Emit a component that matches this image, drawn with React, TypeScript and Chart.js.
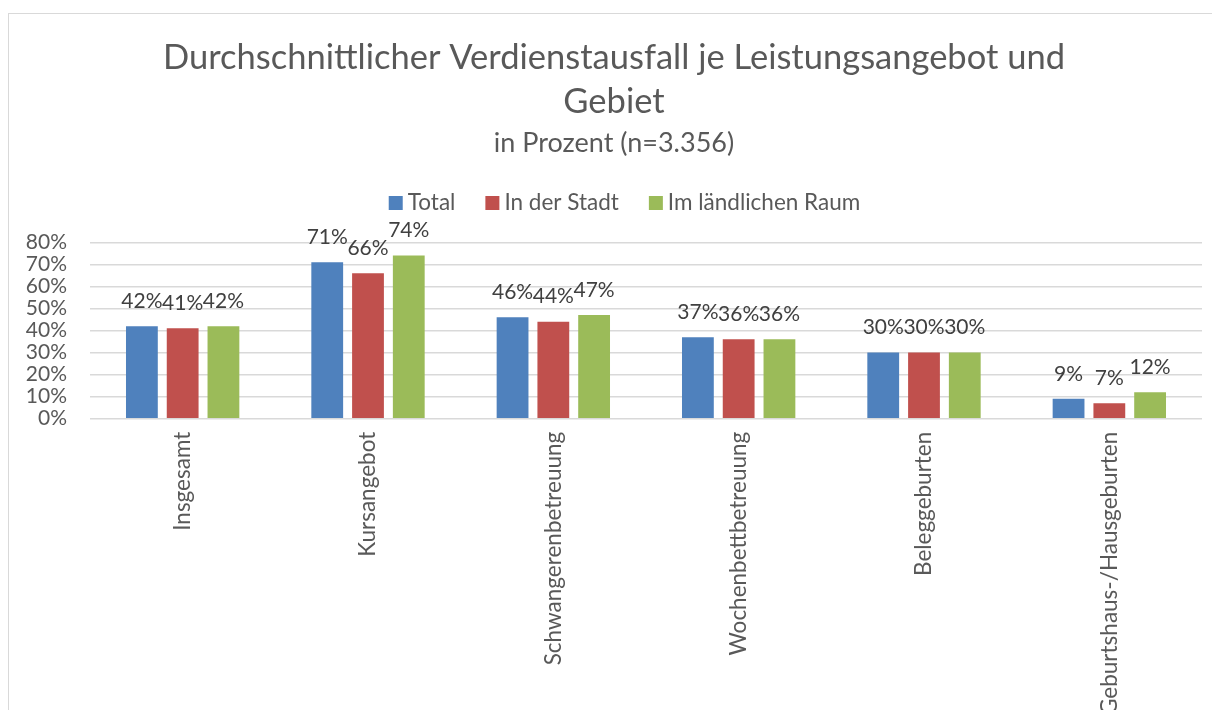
import React, { useEffect, useRef } from "react";
import { Chart, registerables } from "chart.js";

Chart.register(...registerables);

const categories = [
  "Insgesamt",
  "Kursangebot",
  "Schwangerenbetreuung",
  "Wochenbettbetreuung",
  "Beleggeburten",
  "Geburtshaus-/Hausgeburten",
];
const seriesNames = ["Total", "In der Stadt", "Im ländlichen Raum"];
const totalValues = [42, 71, 46, 37, 30, 9];
const stadtValues = [41, 66, 44, 36, 30, 7];
const laendlichValues = [42, 74, 47, 36, 30, 12];
const seriesColors = ["#4f81bd", "#c0504d", "#9bbb59"];
const yTicks = [0, 10, 20, 30, 40, 50, 60, 70, 80];

const FONT = "Lato";
const TEXT = "#595959";

const dataLabelPlugin = {
  id: "dataLabels",
  afterDatasetsDraw(chart: any) {
    const ctx = chart.ctx;
    ctx.save();
    ctx.font = `21px ${FONT}`;
    ctx.fillStyle = "#404040";
    ctx.textAlign = "center";
    ctx.textBaseline = "middle";
    chart.data.datasets.forEach((ds: any, i: number) => {
      const meta = chart.getDatasetMeta(i);
      meta.data.forEach((el: any, j: number) => {
        ctx.fillText(`${ds.data[j]}%`, el.x, el.y - 25);
      });
    });
    ctx.restore();
  },
};

const legendPlugin = {
  id: "customLegend",
  afterDraw(chart: any) {
    const ctx = chart.ctx;
    ctx.save();
    ctx.font = `22.5px ${FONT}`;
    ctx.textBaseline = "middle";
    ctx.textAlign = "left";
    const box = 14;
    const gap = 5;
    const itemGap = 30;
    const widths = seriesNames.map((n) => ctx.measureText(n).width);
    const total = widths.reduce((a, w) => a + box + gap + w, 0) + itemGap * (seriesNames.length - 1);
    let x = chart.width / 2 + 10 - total / 2;
    const y = 189;
    seriesNames.forEach((n, i) => {
      ctx.fillStyle = seriesColors[i];
      ctx.fillRect(x, y - box / 2, box, box);
      x += box + gap;
      ctx.fillStyle = TEXT;
      ctx.fillText(n, x, y);
      x += widths[i] + itemGap;
    });
    ctx.restore();
  },
};

export default function App() {
  const ref = useRef<HTMLCanvasElement>(null);
  useEffect(() => {
    document.body.style.overflow = "hidden";
    const chart = new Chart(ref.current!, {
      type: "bar",
      data: {
        labels: categories,
        datasets: [totalValues, stadtValues, laendlichValues].map((d, i) => ({
          label: seriesNames[i],
          data: d,
          backgroundColor: seriesColors[i],
          borderWidth: 0,
          categoryPercentage: 0.66,
          barPercentage: 0.78,
        })),
      },
      options: {
        responsive: false,
        animation: false,
        layout: { padding: { left: 17, right: 18, top: 0, bottom: 0 } },
        plugins: {
          title: {
            display: true,
            text: ["Durchschnittlicher Verdienstausfall je Leistungsangebot und", "Gebiet"],
            color: TEXT,
            font: { family: FONT, size: 34.5, weight: "normal", lineHeight: 1.275 },
            padding: { top: 22, bottom: 3 },
          },
          subtitle: {
            display: true,
            text: "in Prozent (n=3.356)",
            color: TEXT,
            font: { family: FONT, size: 27, weight: "normal", lineHeight: 1.2 },
            padding: { top: 0, bottom: 83 },
          },
          legend: { display: false },
          tooltip: { enabled: false },
        },
        scales: {
          x: {
            grid: { display: false, drawTicks: false },
            border: { display: false },
            afterFit: (axis: any) => {
              axis.paddingLeft = 0;
              axis.paddingRight = 0;
            },
            ticks: {
              color: TEXT,
              font: { family: FONT, size: 22.5 },
              minRotation: 90,
              maxRotation: 90,
              padding: 13,
              autoSkip: false,
            },
          },
          y: {
            min: 0,
            max: 80,
            afterBuildTicks: (axis: any) => {
              axis.ticks = yTicks.map((v) => ({ value: v }));
            },
            afterFit: (axis: any) => {
              axis.width = 64;
            },
            grid: { color: "#d9d9d9", lineWidth: 1.5, drawTicks: false },
            border: { display: false },
            ticks: {
              color: TEXT,
              font: { family: FONT, size: 21 },
              padding: 23,
              autoSkip: false,
              callback: (v: any) => `${v}%`,
            },
          },
        },
      },
      plugins: [dataLabelPlugin, legendPlugin],
    });
    return () => chart.destroy();
  }, []);
  return (
    <div style={{ marginTop: 5, borderTop: "1px solid #d9d9d9", borderLeft: "1px solid #d9d9d9", width: 1212 }}>
      <canvas ref={ref} width={1211} height={714} style={{ display: "block" }} />
    </div>
  );
}
